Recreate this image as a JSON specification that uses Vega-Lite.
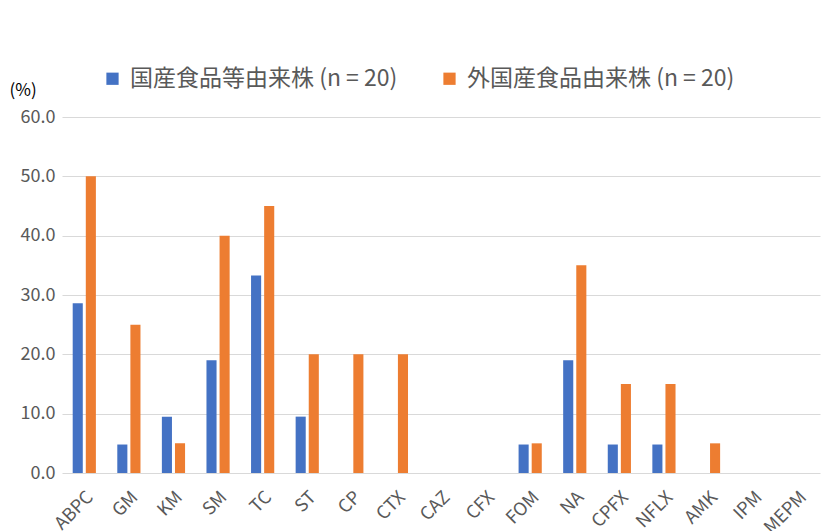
{
  "$schema": "https://vega.github.io/schema/vega-lite/v6.json",
  "autosize": "none",
  "width": 758,
  "height": 356,
  "padding": {"left": 62, "top": 117, "right": 6, "bottom": 58},
  "background": "white",
  "config": {
    "font": "Noto Sans CJK JP",
    "view": {"stroke": null}
  },
  "data": {
    "values": [
      {"drug": "ABPC", "group": "国産食品等由来株 (n = 20)", "value": 28.6},
      {"drug": "GM", "group": "国産食品等由来株 (n = 20)", "value": 4.8},
      {"drug": "KM", "group": "国産食品等由来株 (n = 20)", "value": 9.5},
      {"drug": "SM", "group": "国産食品等由来株 (n = 20)", "value": 19.0},
      {"drug": "TC", "group": "国産食品等由来株 (n = 20)", "value": 33.3},
      {"drug": "ST", "group": "国産食品等由来株 (n = 20)", "value": 9.5},
      {"drug": "CP", "group": "国産食品等由来株 (n = 20)", "value": 0},
      {"drug": "CTX", "group": "国産食品等由来株 (n = 20)", "value": 0},
      {"drug": "CAZ", "group": "国産食品等由来株 (n = 20)", "value": 0},
      {"drug": "CFX", "group": "国産食品等由来株 (n = 20)", "value": 0},
      {"drug": "FOM", "group": "国産食品等由来株 (n = 20)", "value": 4.8},
      {"drug": "NA", "group": "国産食品等由来株 (n = 20)", "value": 19.0},
      {"drug": "CPFX", "group": "国産食品等由来株 (n = 20)", "value": 4.8},
      {"drug": "NFLX", "group": "国産食品等由来株 (n = 20)", "value": 4.8},
      {"drug": "AMK", "group": "国産食品等由来株 (n = 20)", "value": 0},
      {"drug": "IPM", "group": "国産食品等由来株 (n = 20)", "value": 0},
      {"drug": "MEPM", "group": "国産食品等由来株 (n = 20)", "value": 0},
      {"drug": "ABPC", "group": "外国産食品由来株 (n = 20)", "value": 50},
      {"drug": "GM", "group": "外国産食品由来株 (n = 20)", "value": 25},
      {"drug": "KM", "group": "外国産食品由来株 (n = 20)", "value": 5},
      {"drug": "SM", "group": "外国産食品由来株 (n = 20)", "value": 40},
      {"drug": "TC", "group": "外国産食品由来株 (n = 20)", "value": 45},
      {"drug": "ST", "group": "外国産食品由来株 (n = 20)", "value": 20},
      {"drug": "CP", "group": "外国産食品由来株 (n = 20)", "value": 20},
      {"drug": "CTX", "group": "外国産食品由来株 (n = 20)", "value": 20},
      {"drug": "CAZ", "group": "外国産食品由来株 (n = 20)", "value": 0},
      {"drug": "CFX", "group": "外国産食品由来株 (n = 20)", "value": 0},
      {"drug": "FOM", "group": "外国産食品由来株 (n = 20)", "value": 5},
      {"drug": "NA", "group": "外国産食品由来株 (n = 20)", "value": 35},
      {"drug": "CPFX", "group": "外国産食品由来株 (n = 20)", "value": 15},
      {"drug": "NFLX", "group": "外国産食品由来株 (n = 20)", "value": 15},
      {"drug": "AMK", "group": "外国産食品由来株 (n = 20)", "value": 5},
      {"drug": "IPM", "group": "外国産食品由来株 (n = 20)", "value": 0},
      {"drug": "MEPM", "group": "外国産食品由来株 (n = 20)", "value": 0}
    ]
  },
  "mark": {"type": "bar"},
  "encoding": {
    "x": {
      "field": "drug",
      "type": "nominal",
      "sort": null,
      "scale": {"paddingInner": 0.48, "paddingOuter": 0.24},
      "axis": {
        "title": null,
        "labelAngle": -45,
        "labelFontSize": 18,
        "labelColor": "#595959",
        "labelPadding": 15,
        "domain": false,
        "ticks": false
      }
    },
    "xOffset": {
      "field": "group",
      "type": "nominal",
      "sort": null,
      "scale": {"paddingInner": 0.23, "paddingOuter": 0}
    },
    "y": {
      "field": "value",
      "type": "quantitative",
      "scale": {"domain": [0, 60]},
      "axis": {
        "title": "(%)",
        "titleAngle": 0,
        "titleFontWeight": "normal",
        "titleFontSize": 17,
        "titleColor": "#000000",
        "titleX": -53,
        "titleY": -22,
        "titleAlign": "left",
        "titleBaseline": "alphabetic",
        "values": [0, 10, 20, 30, 40, 50, 60],
        "format": ".1f",
        "labelFontSize": 18,
        "labelColor": "#595959",
        "labelPadding": 7,
        "domain": false,
        "ticks": false,
        "gridColor": "#d9d9d9",
        "gridWidth": 1
      }
    },
    "color": {
      "field": "group",
      "type": "nominal",
      "sort": null,
      "scale": {"range": ["#4472C4", "#ED7D31"]},
      "legend": {
        "title": null,
        "orient": "none",
        "direction": "horizontal",
        "legendX": 39,
        "legendY": -50,
        "symbolType": "square",
        "symbolSize": 150,
        "symbolStrokeWidth": 0,
        "labelFontSize": 23,
        "labelColor": "#595959",
        "labelOffset": 6,
        "columnPadding": 40,
        "labelLimit": 400
      }
    }
  }
}
